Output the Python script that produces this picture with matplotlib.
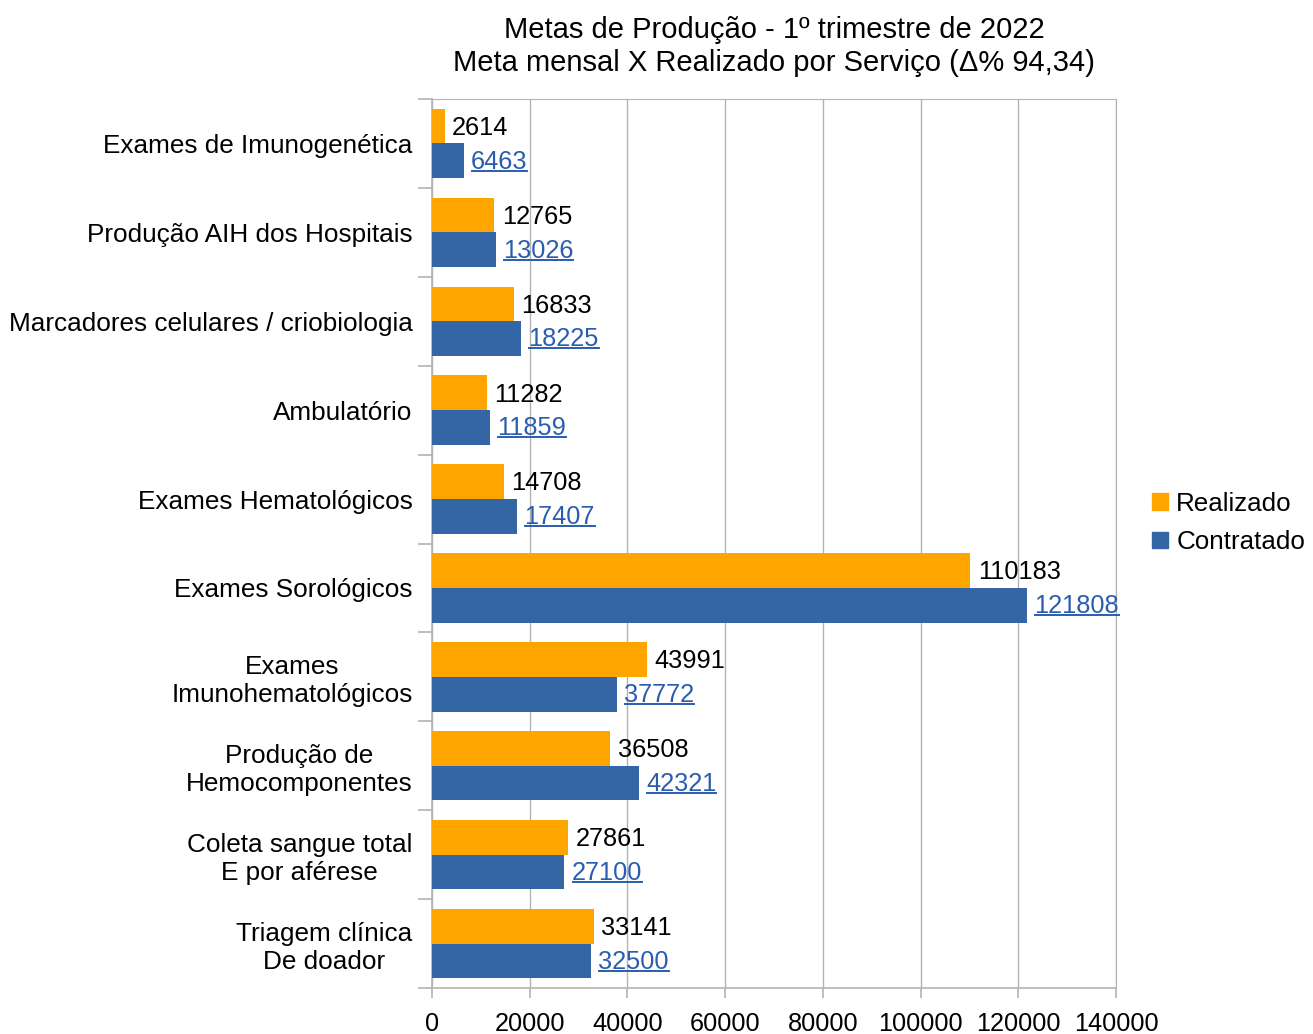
import matplotlib
matplotlib.use("Agg")
import matplotlib.pyplot as plt
import numpy as np
from matplotlib.lines import Line2D

plt.rcParams['font.family'] = ['Liberation Sans', 'DejaVu Sans']

categories = ["Exames de Imunogenética", "Produção AIH dos Hospitais",
              "Marcadores celulares / criobiologia", "Ambulatório",
              "Exames Hematológicos", "Exames Sorológicos",
              "Exames\nImunohematológicos", "Produção de\nHemocomponentes",
              "Coleta sangue total\nE por aférese", "Triagem clínica\nDe doador"]
realizado = [2614, 12765, 16833, 11282, 14708, 110183, 43991, 36508, 27861, 33141]
contratado = [6463, 13026, 18225, 11859, 17407, 121808, 37772, 42321, 27100, 32500]
xticks = [0, 20000, 40000, 60000, 80000, 100000, 120000, 140000]

orange = "#ffa500"
blue = "#3465a4"
linkblue = "#2a5db0"
grid_c = "#b3b3b3"

fig = plt.figure(figsize=(13.13, 10.34), dpi=100)
ax = fig.add_axes([432/1313, 1-988/1034, (1116-432)/1313, (988-99)/1034])

n = len(categories)
y = np.arange(n)
h = 0.39
ax.barh(y - h/2, realizado, height=h, color=orange, label="Realizado", zorder=3)
ax.barh(y + h/2, contratado, height=h, color=blue, label="Contratado", zorder=3)

ax.set_ylim(n - 0.5, -0.5)
ax.set_xlim(0, 140000)
ax.set_xticks(xticks)
ax.set_xticklabels([str(v) for v in xticks], fontsize=18.2)
ax.set_yticks(y)
ax.set_yticklabels(categories, fontsize=18.8, multialignment='center', linespacing=1.2)
ax.set_yticks(np.arange(-0.5, n, 1.0), minor=True)
ax.tick_params(axis='y', which='major', length=0, pad=14)
ax.tick_params(axis='y', which='minor', length=10, color=grid_c, width=1.2)
ax.tick_params(axis='x', length=7, color=grid_c, width=1.2, pad=10)
ax.grid(axis='x', color=grid_c, linewidth=1.0, zorder=0)
for s in ['top', 'right']:
    ax.spines[s].set_color(grid_c)
for s in ['left', 'bottom']:
    ax.spines[s].set_color(grid_c)
    ax.spines[s].set_linewidth(1.2)

ax.set_title("Metas de Produção - 1º trimestre de 2022\nMeta mensal X Realizado por Serviço (Δ% 94,34)",
             fontsize=21, pad=20, linespacing=1.26)

off = 1500
for i in range(n):
    ax.text(realizado[i] + off, y[i] - h/2 + 0.02, str(realizado[i]), va='center', ha='left',
            fontsize=18.3, color='black', zorder=4)
blue_texts = []
for i in range(n):
    t = ax.text(contratado[i] + off, y[i] + h/2 + 0.01, str(contratado[i]), va='center', ha='left',
                fontsize=18.3, color=linkblue, zorder=4)
    blue_texts.append(t)

leg = fig.legend(handles=[plt.Rectangle((0, 0), 1, 1, color=orange),
                          plt.Rectangle((0, 0), 1, 1, color=blue)],
                 labels=["Realizado", "Contratado"], loc='center left',
                 bbox_to_anchor=(1129/1313, 1-523/1034), frameon=False, fontsize=18.7,
                 handlelength=0.6, handleheight=0.6, handletextpad=0.32, labelspacing=0.57)

fig.canvas.draw()
r = fig.canvas.get_renderer()
W, H = fig.canvas.get_width_height()
for t in blue_texts:
    bb = t.get_window_extent(renderer=r)
    yy = bb.y0 + 3
    fig.add_artist(Line2D([(bb.x0 + 1) / W, bb.x1 / W], [yy / H, yy / H],
                          color=linkblue, linewidth=1.4, transform=fig.transFigure))

fig.savefig("out.png", dpi=100)
